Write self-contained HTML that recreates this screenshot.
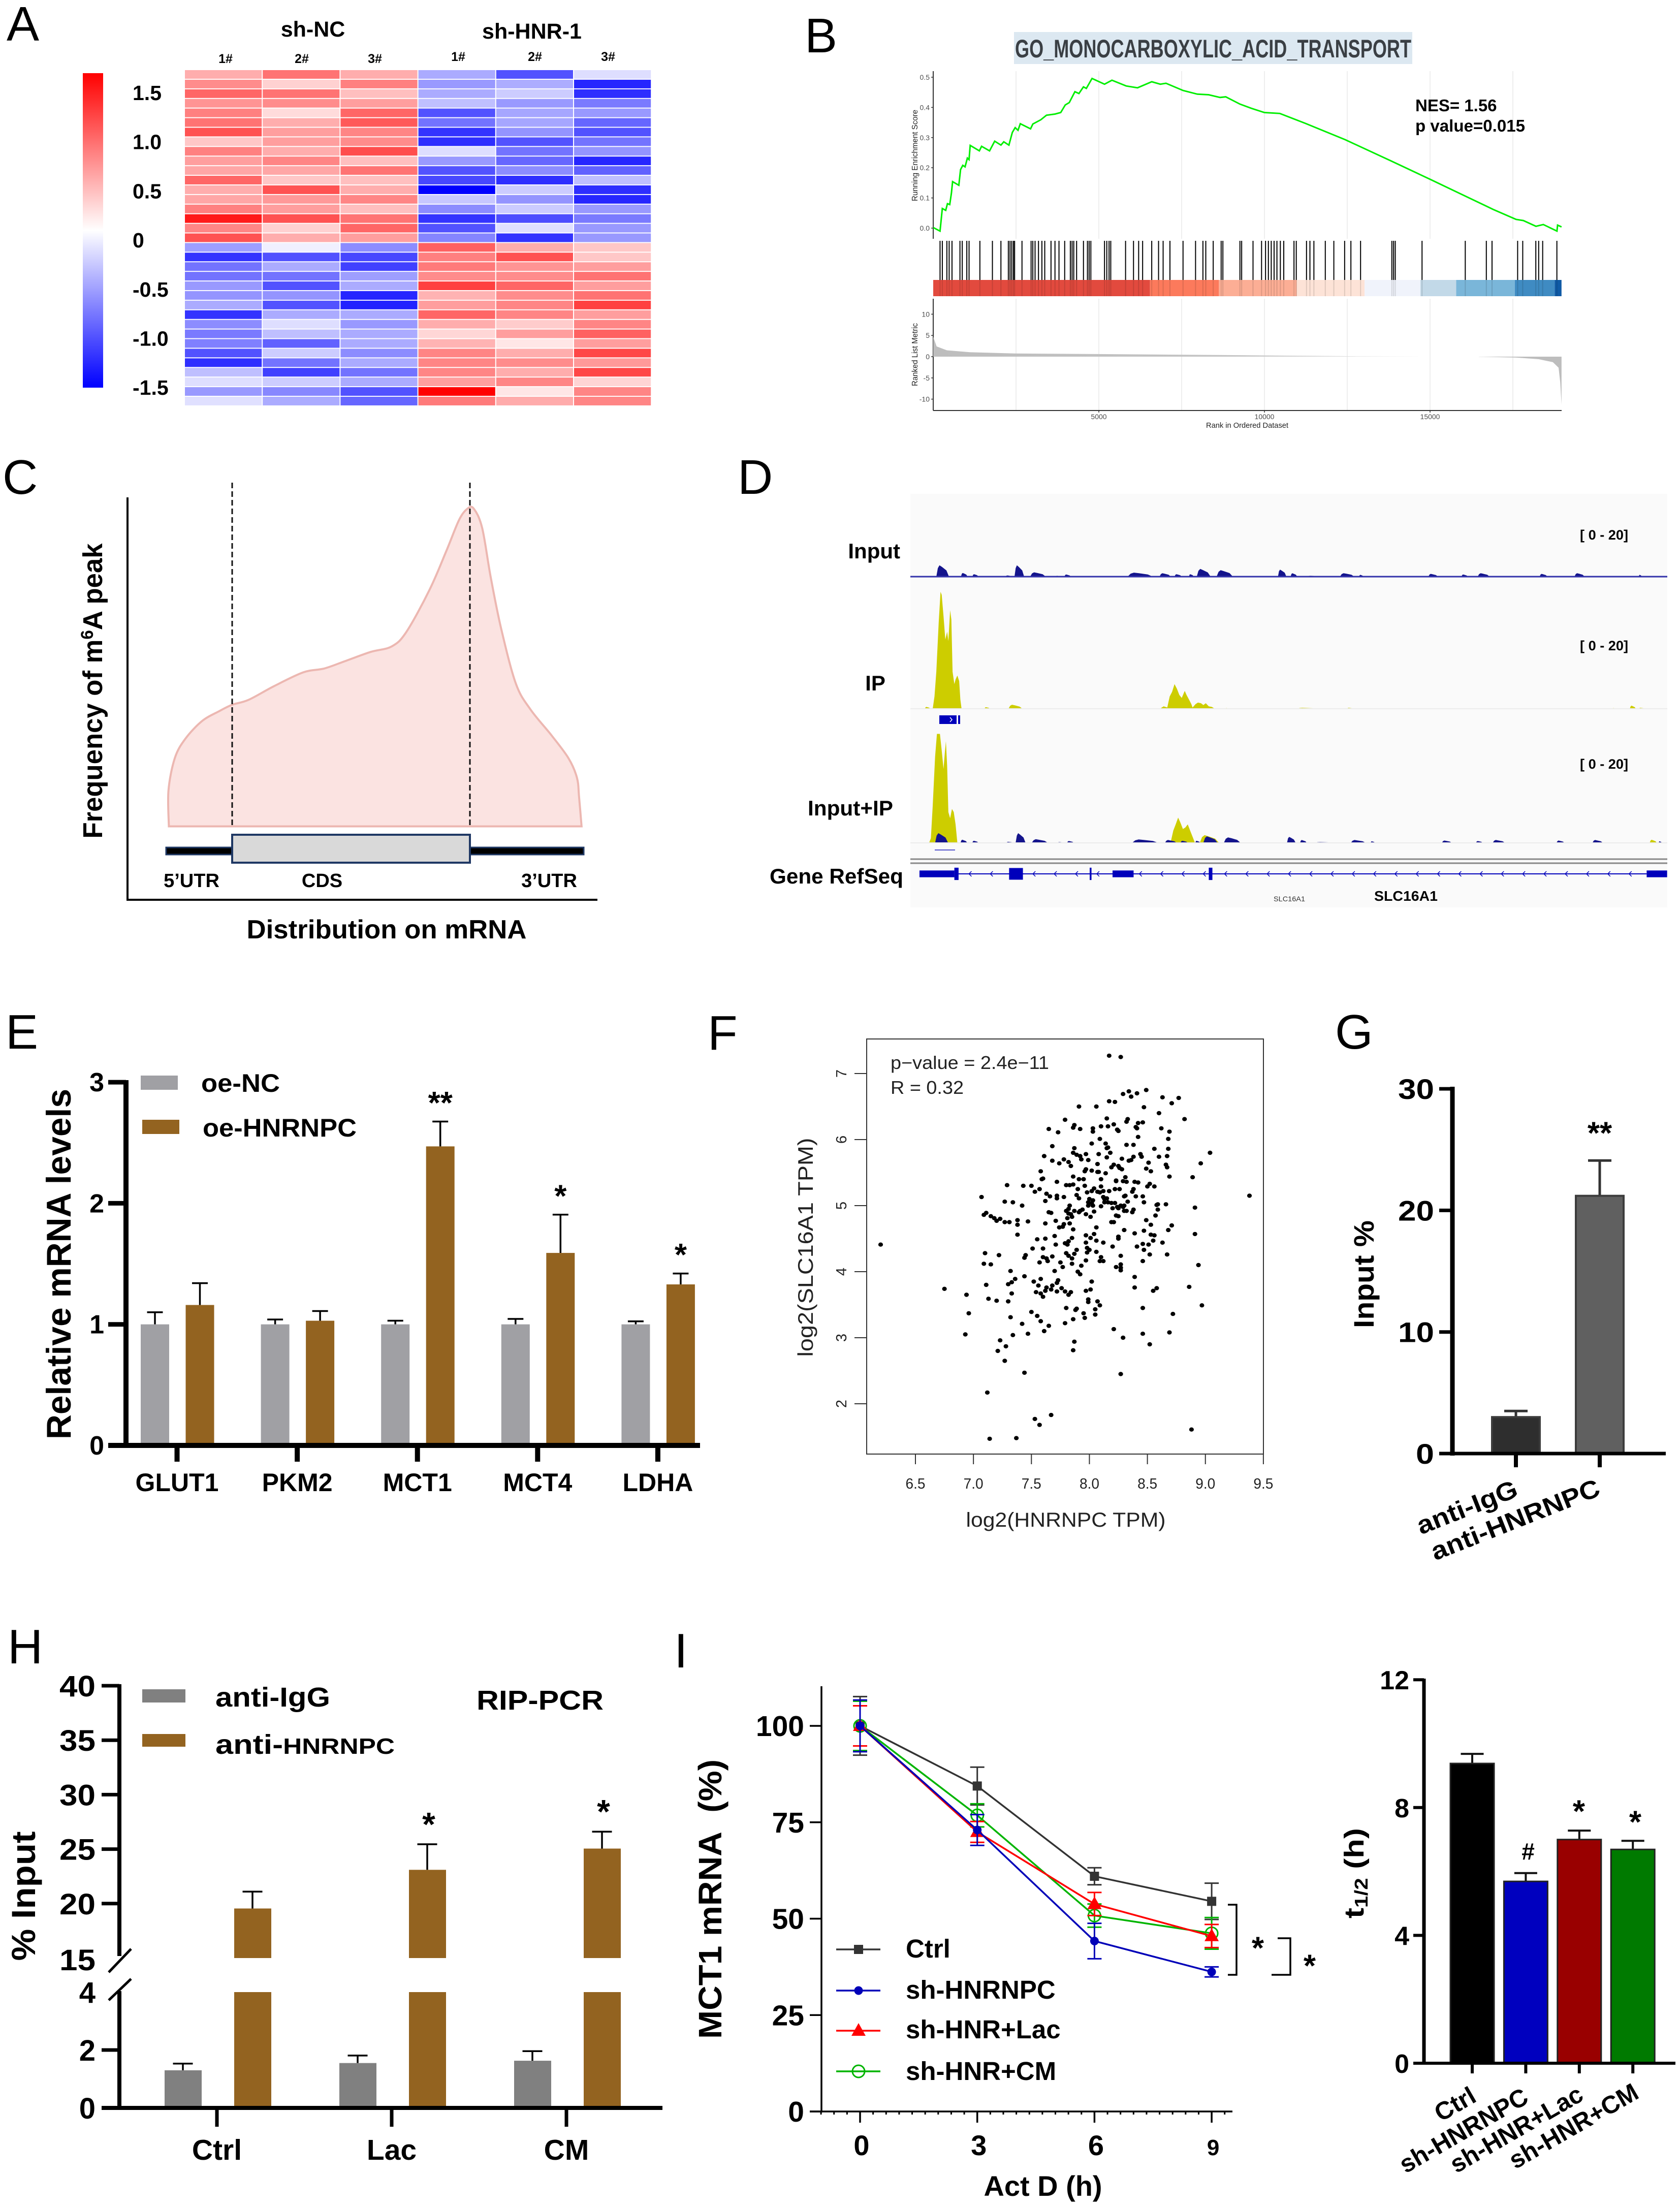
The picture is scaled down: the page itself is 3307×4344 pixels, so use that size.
<!DOCTYPE html>
<html lang="en">
<head>
<meta charset="utf-8">
<title>Multi-panel figure: HNRNPC, SLC16A1 and MCT1</title>
<style>
html,body{margin:0;padding:0;background:#fff;}
svg{display:block;font-family:"Liberation Sans",Arial,sans-serif;}
</style>
</head>
<body>
<svg id="figure" xmlns="http://www.w3.org/2000/svg" width="3307" height="4344" viewBox="0 0 3307 4344">
<defs>
<linearGradient id="cbar" x1="0" y1="0" x2="0" y2="1"><stop offset="0" stop-color="#ff0000"/><stop offset="0.5" stop-color="#ffffff"/><stop offset="1" stop-color="#0000ff"/></linearGradient>
<linearGradient id="metricFade" x1="0" y1="0" x2="1" y2="0"><stop offset="0" stop-color="#bdbdbd"/><stop offset="0.6" stop-color="#c4c4c4"/><stop offset="1" stop-color="#ededed"/></linearGradient>
</defs>
<rect x="0" y="0" width="3307" height="4344" fill="#ffffff"/>
<g id="pA"></g>
<g id="pB"></g>
<g id="pC"></g>
<g id="pD"></g>
<g id="pE"></g>
<g id="pF"></g>
<g id="pG"></g>
<g id="pH"></g>
<g id="pI"></g>
<g id="pJ"></g>
</svg>
<script>
/* ---------- Panel A data ---------- */
const heatColumns = ["1#","2#","3#","1#","2#","3#"];
const heatValues = [
[.32,.55,.32,-.33,-.68,-.13],[.45,.18,.5,-.4,-.32,-.85],[.6,.55,.25,-.33,-.2,-.82],[.42,.45,.38,-.25,-.4,-.52],
[.5,.14,.6,-.68,-.35,-.4],[.55,.32,.65,-.55,-.35,-.6],[.68,.38,.48,-.8,-.42,-.68],[.22,.38,.45,-.82,-.68,-.55],
[.5,.32,.7,-.13,-.55,-.42],[.38,.48,.25,-.4,-.6,-.85],[.35,.35,.55,-.68,-.45,-.62],[.6,.22,.25,-.72,-.82,-.25],
[.32,.68,.32,-1,-.2,-.82],[.35,.4,.48,-.22,-.42,-.85],[.5,.38,.25,-.45,-.2,-.4],[.9,.68,.55,-.8,-.7,-.52],
[.48,.18,.6,-.68,-.12,-.4],[.68,.32,.38,-.48,-.8,-.4],[-.38,-.06,-.45,.62,.32,.22],[-.8,-.68,-.72,.5,.68,.22],
[-.55,-.33,-.75,.52,.42,.38],[-.55,-.55,-.38,.45,.45,.55],[-.4,-.68,-.33,.75,.6,.38],[-.42,-.42,-.85,.3,.45,.55],
[-.33,-.68,-.87,.38,.48,.75],[-.8,-.33,-.33,.6,.48,.38],[-.45,-.13,-.4,.32,.2,.48],[-.52,-.25,-.33,.16,.38,.62],
[-.5,-.62,-.33,.3,.1,.38],[-.68,-.2,-.45,.48,.32,.72],[-.82,-.55,-.33,.48,.45,.4],[-.25,-.75,-.55,.48,.32,.72],
[-.13,-.2,-.33,.38,.48,.17],[-.4,-.47,-.68,1,.1,.48],[-.12,-.33,-.6,.52,.33,.48]];
const heatScaleLabels = ["1.5","1.0","0.5","0","-0.5","-1.0","-1.5"];

/* ---------- Panel B data ---------- */
const esRank = [0,206,275,378,430,498,550,584,773,825,893,962,1031,1082,1117,1392,1460,1701,1856,2045,2131,2285,2388,2474,2560,2629,2938,3007,3247,3419,3677,3849,3986,4107,4278,4399,4536,4622,4794,5172,5395,5825,6168,6598,6856,7027,7543,7973,8316,8660,8832,9261,9605,10000,10464,11237,12440,13814,15017,16907,17595,17818,18196,18419,18832,18849,18969];
const esScore = [.002,-.010,.065,.059,.081,.078,.117,.154,.142,.194,.208,.203,.232,.227,.274,.256,.271,.256,.288,.275,.286,.275,.317,.333,.324,.346,.329,.345,.359,.374,.378,.383,.408,.416,.452,.446,.468,.463,.496,.477,.490,.471,.465,.485,.477,.480,.456,.444,.442,.433,.435,.411,.397,.383,.380,.347,.293,.223,.161,.062,.029,.025,.006,.012,-.010,.010,.004];
const hitRanks = [206,275,412,481,567,807,876,1014,1082,1409,1787,2044,2268,2319,2371,2422,2457,2680,2955,3007,3075,3178,3281,3367,3556,3676,3797,3969,4140,4192,4243,4329,4536,4656,4707,4759,5171,5240,5309,5360,5807,6047,6202,6322,6597,6803,6941,7147,7542,7920,8143,8229,8453,8693,8745,9260,9312,9655,9913,10033,10119,10205,10291,10377,10480,10583,10892,10961,11270,11373,11493,11837,12095,12421,12610,12902,13847,13899,13950,14758,16063,16699,16871,17644,17798,18193,18279,18400,18829];
const stripEdges = [0,6545,8625,10978,13024,14707,15790,17560,18763,18969];
const stripColors = ["#e24a3e","#fc7a5c","#fcae95","#fde3d7","#f0f3fb","#c2d9e8","#7ab6d9","#3f8bc2","#0f5aa5"];
const metricPosRank = [0,103,412,1100,2474,5910,9346,11373,12781,14637];
const metricPosValue = [4.7,2.4,1.5,1.05,.75,.55,.35,.2,.1,.03];
const metricNegRank = [16475,17595,18280,18708,18880,18930,18969];
const metricNegValue = [-.02,-.2,-.6,-1.3,-2.6,-6,-11.3];
const esTicks = ["0.0","0.1","0.2","0.3","0.4","0.5"];
const metricTicks = [-10,-5,0,5,10];
const rankTicks = [5000,10000,15000];

/* ---------- Panel C data ---------- */
const mrnaPos = [401,400,415,440,480,520,551,590,650,720,770,820,880,930,965,1020,1060,1090,1110,1125,1145,1165,1190,1225,1260,1310,1350,1370,1375,1381];
const mrnaFreq = [0,110,210,270,325,355,375,390,432,475,487,510,538,555,600,730,850,945,980,980,920,770,610,440,360,280,210,150,90,0];

/* ---------- Panel D data ---------- */
const inputPeakStart = [332,373,392,447,462,488,530,545,580,650,703,728,752,765,798,860,900,921,945,1003,1035,1072,1098,1150,1205,1232,1335,1362,1393,1425,1458,1500];
const inputPeakEnd = [353,384,402,458,478,514,540,556,620,692,722,740,760,788,825,885,914,932,980,1027,1042,1082,1110,1166,1216,1252,1348,1370,1410,1432,1468,1505];
const inputPeakHeight = [37,12,8,4,37,14,3,7,2,13,11,8,8,25,21,2,23,11,3,11,6,2,2,9,7,11,9,2,11,2,2,6];
const ipMainX = [326,329,332,336,339,341,344,347,350,352,355,357,359,362,364,367,370,372,374];
const ipMainY = [0,40,120,280,380,370,300,225,250,220,320,290,120,80,95,108,90,30,0];
const ipSecondX = [704,710,716,720,724,728,732,736,740,745,748,752,756,758,763,767,772,776,780,785,790,795];
const ipSecondY = [0,8,4,40,55,80,65,45,35,58,45,30,15,4,15,20,18,12,18,8,6,0];
const ipSmallStart = [313,412,452,812,932,1015,1455,1485,1500];
const ipSmallEnd = [322,421,475,820,965,1025,1465,1495,1510];
const ipSmallHeight = [6,5,13,2,3,3,2,10,3];
const mergedMainX = [320,323,326,330,333,338,341,344,346,348,350,352,355,358,361,364,367];
const mergedMainY = [0,15,120,280,354,354,300,240,290,330,250,100,80,110,100,60,0];
const mergedSecondX = [715,722,726,730,734,738,742,746,750,754,758,762];
const mergedSecondY = [0,5,40,60,82,65,45,50,60,40,20,0];
const mergedSmallStart = [770,1518];
const mergedSmallEnd = [802,1530];
const mergedSmallHeight = [25,10];
const exonStart = [304,362,453,587,625,785,1513];
const exonEnd = [362,369,476,590,660,791,1547];
const exonHalfHeight = [11,20,19,20,11,20,11];

/* ---------- Panel E data ---------- */
const eCategories = ["GLUT1","PKM2","MCT1","MCT4","LDHA"];
const eNC = [1,1,1,1,1];
const eNCTop = [1.10,1.04,1.03,1.045,1.025];
const eHN = [1.16,1.03,2.47,1.59,1.33];
const eHNTop = [1.34,1.11,2.675,1.906,1.42];
const eStars = ["","","**","*","*"];
const eTicks = [0,1,2,3];

/* ---------- Panel F data ---------- */
const fXTicks = ["6.5","7.0","7.5","8.0","8.5","9.0","9.5"];
const fYTicks = [2,3,4,5,6,7];
const scatterPairs = [[6.20,4.41],[6.75,3.74],[6.94,3.65],[6.96,3.37],[6.93,3.05],
[7.07,5.13],[7.09,4.86],[7.11,4.89],[7.15,4.84],[7.18,4.81],[7.20,4.77],[7.23,4.80],[7.27,4.75],[7.31,4.75],[7.27,5.06],[7.29,5.31],[7.34,5.05],[7.42,5.00],[7.43,5.30],[7.50,5.30],[7.53,5.21],[7.57,5.25],[7.38,4.78],[7.38,4.71],[7.38,4.56],[7.47,4.76],
[7.10,4.28],[7.09,4.12],[7.15,4.11],[7.22,4.25],[7.32,4.01],[7.11,3.80],[7.13,3.59],[7.20,3.56],[7.30,3.55],[7.30,3.81],[7.33,3.84],[7.36,3.89],[7.33,3.67],[7.44,3.93],[7.32,3.31],[7.42,3.21],[7.47,3.06],[7.34,3.04],[7.23,2.96],[7.28,2.87],[7.21,2.80],[7.27,2.65],[7.44,2.47],[7.12,2.17],[7.14,1.47],[7.37,1.48],[7.53,1.77],[7.57,1.68],[7.67,1.83],[8.88,1.61],[8.27,2.45],
[7.44,4.21],[7.45,4.25],[7.51,4.35],[7.55,4.49],[7.62,4.50],[7.60,4.35],[7.57,4.14],[7.60,4.22],[7.63,4.20],[7.64,4.16],[7.68,4.23],[7.71,4.41],[7.70,4.54],[7.70,4.01],[7.75,4.14],[7.77,4.07],
[7.52,3.85],[7.56,3.79],[7.58,3.89],[7.54,3.69],[7.58,3.67],[7.60,3.62],[7.62,3.71],[7.63,3.76],[7.67,3.73],[7.68,3.79],[7.72,3.70],[7.73,3.87],[7.72,3.83],[7.76,3.75],[7.79,3.70],[7.82,3.65],[7.84,3.69],[7.80,3.45],[7.50,3.39],[7.55,3.33],[7.58,3.25],[7.61,3.10],[7.65,3.18],[7.79,3.22],[7.86,3.28],[7.88,3.42],[7.89,3.44],[7.95,3.37],[7.96,3.30],[8.05,3.35],[8.05,3.43],[8.09,3.49],[8.07,3.55],[7.99,3.54],[7.99,3.58],[7.97,3.71],[8.01,3.73],[8.02,3.85],[7.87,2.94],[7.86,2.81],[8.21,3.13],[8.29,3.00],[8.46,3.06],[8.52,2.90],[8.69,3.08],[8.72,3.36],[8.46,3.45],
[7.62,5.07],[7.63,5.18],[7.66,5.14],[7.72,5.15],[7.72,5.11],[7.78,5.13],[7.65,4.90],[7.67,4.89],[7.62,4.73],[7.71,4.77],[7.74,4.67],[7.77,4.68],[7.78,4.72],[7.81,4.81],[7.85,4.83],[7.83,4.73],[7.79,4.43],[7.82,4.46],[7.81,4.41],[7.85,4.51],[7.80,4.28],[7.82,4.24],[7.85,4.20],[7.85,4.12],[7.87,4.27],[7.89,4.33],[7.93,4.09],[7.90,4.00],[7.92,3.96],[7.86,4.64],
[7.80,4.92],[7.82,4.95],[7.83,5.00],[7.84,4.87],[7.82,4.88],[7.87,4.92],[7.91,4.90],[7.92,4.92],[7.94,4.94],[7.97,4.87],[8.01,4.83],[8.04,4.91],[8.06,4.67],[8.04,4.57],[7.97,4.55],[8.01,4.51],[7.97,4.44],[8.06,4.47],[8.12,4.44],[7.98,4.36],[8.00,4.33],[7.98,4.29],[8.06,4.30],[7.97,4.17],[8.10,4.22],[8.09,4.16],[8.12,4.16],
[7.59,5.40],[7.60,5.41],[7.58,5.52],[7.61,5.75],[7.68,5.68],[7.68,5.90],[7.65,6.16],[7.73,6.11],[7.78,5.70],[7.74,5.64],[7.82,5.66],[7.84,5.60],[7.72,5.36],[7.80,5.31],[7.83,5.31],[7.86,5.32],[7.86,5.44],[7.89,5.16],[7.91,5.11],[7.90,5.25],[7.91,5.40],[7.95,5.40],[7.96,5.52],[7.97,5.55],[7.96,5.30],[7.98,5.20],[7.99,5.05],[8.00,5.10],[8.02,5.04],[8.03,5.00],[8.03,5.08],[7.99,5.00],
[7.89,5.77],[7.92,5.75],[7.93,5.70],[7.97,5.78],[7.99,5.69],[8.02,5.53],[8.07,5.51],[8.07,5.63],[8.08,5.78],[8.02,5.94],[8.09,6.01],[8.03,6.12],[8.03,6.17],[7.86,5.80],[7.87,5.87],[7.79,6.30],[7.86,6.18],[7.87,6.22],[7.92,6.16],[7.91,6.50],[8.06,6.50],[8.10,6.20],[8.15,6.32],[8.16,6.20],[8.21,6.23],[8.24,6.15],[8.25,6.13],
[8.17,6.58],[8.22,6.57],[8.29,6.69],[8.34,6.73],[8.36,6.65],[8.41,6.70],[8.49,6.75],[8.47,6.49],[8.63,6.64],[8.71,6.55],[8.77,6.63],[8.60,6.40],[8.82,6.31],[8.17,7.27],[8.27,7.25],
[8.32,6.27],[8.33,6.31],[8.40,6.19],[8.41,6.17],[8.42,6.25],[8.46,6.26],[8.42,6.04],[8.62,6.17],[8.69,6.12],[8.68,6.01],[8.68,5.86],[8.67,5.75],[8.56,5.86],[8.60,5.74],[8.44,5.78],[8.45,5.74],[8.38,5.92],[8.32,5.92],[8.28,5.71],[8.34,5.68],[8.36,5.69],[8.38,5.74],
[8.14,5.94],[8.15,5.87],[8.16,5.88],[8.18,5.80],[8.15,5.73],[8.08,5.51],[8.14,5.49],[8.19,5.58],[8.21,5.62],[8.25,5.60],[8.26,5.57],[8.28,5.55],[8.10,5.40],[8.10,5.29],[8.09,5.20],[8.12,5.22],[8.17,5.22],[8.12,5.13],[8.13,5.10],[8.15,5.11],[8.13,5.05],[8.16,5.05],[8.07,5.21],[8.02,5.22],[8.04,5.26],[8.10,4.99],[8.19,5.04],
[8.22,5.25],[8.23,5.37],[8.23,5.38],[8.26,5.25],[8.30,5.14],[8.31,5.15],[8.29,5.37],[8.31,5.43],[8.32,5.36],[8.39,5.36],[8.42,5.35],[8.38,5.25],[8.37,5.21],[8.40,5.14],[8.46,5.14],[8.50,5.29],[8.52,5.33],[8.56,5.29],[8.49,5.56],[8.51,5.65],[8.53,5.52],[8.66,5.62],[8.67,5.58],[8.69,5.44],
[8.20,4.96],[8.22,5.04],[8.24,4.98],[8.25,4.96],[8.29,4.98],[8.30,4.92],[8.30,5.00],[8.32,4.92],[8.33,5.06],[8.27,5.00],[8.23,4.85],[8.25,4.84],[8.19,4.75],[8.21,4.75],[8.37,4.90],[8.38,4.94],[8.47,5.05],[8.58,5.01],[8.59,5.02],[8.66,5.02],[8.59,4.94],[8.57,4.85],[8.49,4.78],[8.53,4.71],[8.47,4.62],[8.30,4.63],[8.25,4.53],[8.25,4.50],[8.39,4.58],[8.53,4.56],[8.56,4.55],[8.68,4.63],[8.71,4.70],[8.63,4.44],[8.55,4.47],[8.46,4.42],[8.51,4.41],[8.47,4.33],[8.41,4.38],[8.52,4.26],[8.46,4.16],[8.67,4.26],[8.20,4.38],[8.27,4.24],[8.27,4.11],[8.27,4.06],[8.27,4.02],[8.23,4.07],[8.39,3.92],[8.39,3.76],[8.55,3.71],[8.58,3.75],
[8.86,3.77],[8.97,3.49],[8.94,4.10],[8.91,4.57],[8.91,4.97],[8.89,5.43],[8.96,5.64],[9.04,5.80],[9.38,5.15]];

/* ---------- Panel G data ---------- */
const gValues = [3.0,21.2];
const gTops = [3.5,24.1];
const gTicks = [0,10,20,30];

/* ---------- Panel H data ---------- */
const hCategories = ["Ctrl","Lac","CM"];
const hIgG = [1.3,1.55,1.63];
const hIgGTop = [1.53,1.81,1.96];
const hAnti = [19.55,23.1,25.05];
const hAntiTop = [21.1,25.45,26.6];
const hStars = ["","*","*"];
const hUpperTicks = [20,25,30,35,40];
const hLowerTicks = [0,2];

/* ---------- Panel I data ---------- */
const iHours = [0,3,6,9];
const iCtrl = [100,84.4,61,54.5];
const iCtrlErr = [7.6,4.9,2.2,4.7];
const iHNRNPC = [100,73,44.2,36.2];
const iHNRNPCErr = [6.7,4,4.6,1.3];
const iLac = [100,72.5,53.8,45.5];
const iLacErr = [5.2,2.7,3,3];
const iCM = [100,76.8,50.8,46.2];
const iCMErr = [6.4,3,3,4.1];
const iYTicks = [0,25,50,75,100];
const jCategories = ["Ctrl","sh-HNRNPC","sh-HNR+Lac","sh-HNR+CM"];
const jValues = [9.38,5.69,7.0,6.69];
const jTops = [9.68,5.95,7.28,6.96];
const jTicks = [0,4,8,12];

/* ---------- helpers ---------- */
const NS = 'http://www.w3.org/2000/svg';
function mk(tag, attrs, parent, name, inter) {
  const el = document.createElementNS(NS, tag);
  for (const k in attrs) el.setAttribute(k, attrs[k]);
  
  
  parent.appendChild(el);
  return el;
}
function L(p, name, x1, y1, x2, y2, c, w, extra) {
  return mk('line', Object.assign({x1:x1, y1:y1, x2:x2, y2:y2, stroke:c, 'stroke-width':w}, extra || {}), p, name);
}
function R(p, name, x, y, w, h, fill, stroke, sw) {
  const a = {x:x, y:y, width:w, height:h, fill:fill};
  if (stroke) { a.stroke = stroke; a['stroke-width'] = sw; }
  return mk('rect', a, p, name);
}
function T(p, name, str, x, y, o) {
  o = o || {};
  const a = {x:x, y:y, 'font-size':o.fs || 40, 'font-weight':o.reg ? 'normal' : 'bold', fill:o.fill || '#000'};
  if (o.anchor) a['text-anchor'] = o.anchor;
  if (o.rot) a.transform = 'rotate(' + o.rot + ' ' + x + ' ' + y + ')';
  if (o.len) { a.textLength = o.len; a.lengthAdjust = 'spacingAndGlyphs'; }
  const el = mk('text', a, p, name);
  if (str !== null) el.textContent = str;
  return el;
}
function Span(parent, name, str, attrs) {
  const el = mk('tspan', attrs || {}, parent, name);
  el.textContent = str;
  return el;
}
function Poly(p, name, pts, fill, stroke, sw) {
  const a = {points:pts.map(q => q[0].toFixed(1) + ',' + q[1].toFixed(1)).join(' '), fill:fill};
  if (stroke) { a.stroke = stroke; a['stroke-width'] = sw; }
  return mk('polygon', a, p, name);
}
function Star(p, name, str, cx, cy, fs) {
  return T(p, name, str, cx, cy + fs * 0.46, {fs:fs, anchor:'middle'});
}
function ErrUp(p, name, x, y1, y2, capw, c, w) {
  L(p, name + '-stem', x, y1, x, y2, c, w);
  L(p, name + '-cap', x - capw / 2, y2, x + capw / 2, y2, c, w);
}
const $ = id => document.getElementById(id);

/* ---------- panel letters ---------- */
T($('pA'), 'panel-letter-a', 'A', 13, 80, {fs:96, reg:true});
T($('pB'), 'panel-letter-b', 'B', 1584, 103, {fs:96, reg:true});
T($('pC'), 'panel-letter-c', 'C', 5, 972, {fs:96, reg:true});
T($('pD'), 'panel-letter-d', 'D', 1452, 972, {fs:96, reg:true});
T($('pE'), 'panel-letter-e', 'E', 11, 2064, {fs:96, reg:true});
T($('pF'), 'panel-letter-f', 'F', 1393, 2066, {fs:96, reg:true});
T($('pG'), 'panel-letter-g', 'G', 2628, 2064, {fs:96, reg:true});
T($('pH'), 'panel-letter-h', 'H', 15, 3274, {fs:96, reg:true});
T($('pI'), 'panel-letter-i', 'I', 1327, 3282, {fs:96, reg:true});

/* ---------- Panel A ---------- */
(function () {
  const p = $('pA');
  const colX = i => 364 + i * 153.2;
  const rowY = r => 138 + r * 18.91;
  const heat = v => {
    const k = Math.round(255 * (1 - Math.abs(v)));
    return v >= 0 ? 'rgb(255,' + k + ',' + k + ')' : 'rgb(' + k + ',' + k + ',255)';
  };
  heatValues.forEach((row, r) => row.forEach((v, c) => {
    R(p, 'heatmap-cell', colX(c), rowY(r), 151.2, 17, heat(v));
  }));
  const labelX = [444, 594, 738, 902, 1053, 1197];
  const labelY = [124, 124, 124, 120, 120, 120];
  heatColumns.forEach((s, i) => T(p, 'heatmap-column-label', s, labelX[i], labelY[i], {fs:25, anchor:'middle'}));
  T(p, 'group-label-sh-nc', 'sh-NC', 616, 72, {fs:43, anchor:'middle'});
  T(p, 'group-label-sh-hnr-1', 'sh-HNR-1', 1047, 76, {fs:43, anchor:'middle'});
  R(p, 'color-scale-bar', 163, 144, 40, 619, 'url(#cbar)');
  heatScaleLabels.forEach((s, i) => T(p, 'color-scale-label', s, 261, 184 + i * 96.7 + 13, {fs:41}));
})();

/* ---------- Panel B ---------- */
(function () {
  const p = $('pB');
  const xB = r => 1837 + r * 0.0652;
  const yES = v => 449 - v * 594;
  const yM = v => 702 - v * 8.36;
  R(p, 'gsea-title-background', 1996, 63, 784, 63, '#dce8f1');
  T(p, 'gsea-title', 'GO_MONOCARBOXYLIC_ACID_TRANSPORT', 1998, 113, {fs:50, fill:'#3a3f44', len:780});
  for (let r = 2500; r < 18969; r += 2500) {
    L(p, 'gsea-gridline-top', xB(r), 140, xB(r), 470, '#eeeeee', 2);
    L(p, 'gsea-gridline-bottom', xB(r), 588, xB(r), 808, '#eeeeee', 2);
  }
  L(p, 'es-y-axis', 1837, 140, 1837, 470, '#333', 2);
  esTicks.forEach(t => {
    const y = yES(parseFloat(t));
    L(p, 'es-tick', 1833, y, 1837, y, '#333', 1.5);
    T(p, 'es-tick-label', t, 1830, y + 5, {fs:14, reg:true, anchor:'end', fill:'#4d4d4d'});
  });
  const pts = esRank.map((r, i) => xB(r).toFixed(1) + ',' + yES(esScore[i]).toFixed(1)).join(' ');
  mk('polyline', {points:pts, fill:'none', stroke:'#00ee00', 'stroke-width':3}, p, 'enrichment-score-line');
  T(p, 'es-y-title', 'Running Enrichment Score', 1806, 306, {fs:16, reg:true, anchor:'middle', rot:-90, len:180, fill:'#222'});
  T(p, 'nes-label', 'NES= 1.56', 2786, 219, {fs:33});
  T(p, 'p-value-label', 'p value=0.015', 2786, 259, {fs:33, len:216});
  hitRanks.forEach(r => L(p, 'gene-hit-tick', xB(r), 474, xB(r), 551, '#000', 2));
  stripColors.forEach((c, i) => R(p, 'rank-color-strip', xB(stripEdges[i]), 551, xB(stripEdges[i + 1]) - xB(stripEdges[i]), 32, c));
  hitRanks.forEach(r => L(p, 'strip-hit-tick', xB(r), 551, xB(r), 583, 'rgba(0,0,0,0.12)', 2));
  L(p, 'metric-y-axis', 1837, 588, 1837, 808, '#333', 2);
  L(p, 'metric-x-axis', 1837, 808, 3074, 808, '#333', 2);
  metricTicks.forEach(t => {
    L(p, 'metric-tick', 1833, yM(t), 1837, yM(t), '#333', 1.5);
    T(p, 'metric-tick-label', String(t), 1830, yM(t) + 5, {fs:14, reg:true, anchor:'end', fill:'#4d4d4d'});
  });
  const posPts = metricPosRank.map((r, i) => [xB(r), yM(metricPosValue[i])]);
  posPts.push([xB(metricPosRank[metricPosRank.length - 1]), yM(0)], [xB(0), yM(0)]);
  Poly(p, 'ranked-metric-positive-area', posPts, 'url(#metricFade)');
  const negPts = metricNegRank.map((r, i) => [xB(r), yM(metricNegValue[i])]);
  negPts.push([xB(metricNegRank[metricNegRank.length - 1]), yM(0)], [xB(metricNegRank[0]), yM(0)]);
  Poly(p, 'ranked-metric-negative-area', negPts, '#bdbdbd');
  rankTicks.forEach(t => {
    L(p, 'rank-tick', xB(t), 808, xB(t), 812, '#333', 1.5);
    T(p, 'rank-tick-label', String(t), xB(t), 825, {fs:14, reg:true, anchor:'middle', fill:'#4d4d4d'});
  });
  T(p, 'metric-y-title', 'Ranked List Metric', 1806, 698, {fs:16, reg:true, anchor:'middle', rot:-90, len:124, fill:'#222'});
  T(p, 'rank-x-title', 'Rank in Ordered Dataset', 2455, 842, {fs:15, reg:true, anchor:'middle', len:162, fill:'#222'});
})();

/* ---------- Panel C ---------- */
(function () {
  const p = $('pC');
  const xC = z => z * 0.829;
  const yC = f => 880 + (1170 - f) * 0.638;
  const q = mrnaPos.map((z, i) => [xC(z), yC(mrnaFreq[i])]);
  let d = 'M' + q[0][0].toFixed(1) + ' ' + q[0][1].toFixed(1);
  for (let i = 0; i < q.length - 1; i++) {
    const a = q[Math.max(i - 1, 0)], b = q[i], c = q[i + 1], e = q[Math.min(i + 2, q.length - 1)];
    d += 'C' + (b[0] + (c[0] - a[0]) / 6).toFixed(1) + ' ' + (b[1] + (c[1] - a[1]) / 6).toFixed(1) + ' ' +
      (c[0] - (e[0] - b[0]) / 6).toFixed(1) + ' ' + (c[1] - (e[1] - b[1]) / 6).toFixed(1) + ' ' +
      c[0].toFixed(1) + ' ' + c[1].toFixed(1);
  }
  d += 'Z';
  mk('path', {d:d, fill:'#fbe3e1', stroke:'#ecb7b1', 'stroke-width':4}, p, 'm6a-density-area');
  L(p, 'cds-start-dashed-line', 457, 950, 457, 1626, '#111', 3, {'stroke-dasharray':'11 6'});
  L(p, 'cds-end-dashed-line', 925, 950, 925, 1626, '#111', 3, {'stroke-dasharray':'11 6'});
  L(p, 'c-y-axis', 251, 979, 251, 1773, '#000', 4);
  L(p, 'c-x-axis', 249, 1771, 1176, 1771, '#000', 4);
  R(p, 'utr-5-bar', 327, 1668, 130, 14, '#000', '#1f3864', 3);
  R(p, 'utr-3-bar', 925, 1668, 224, 14, '#000', '#1f3864', 3);
  R(p, 'cds-box', 457, 1643, 468, 55, '#d9d9d9', '#1f3864', 4);
  T(p, 'utr-5-label', '5\u2019UTR', 377, 1746, {fs:38, anchor:'middle'});
  T(p, 'cds-label', 'CDS', 634, 1746, {fs:38, anchor:'middle'});
  T(p, 'utr-3-label', '3\u2019UTR', 1081, 1746, {fs:38, anchor:'middle'});
  T(p, 'c-x-title', 'Distribution on mRNA', 761, 1847, {fs:52, anchor:'middle', len:551});
  const yt = T(p, 'c-y-title', null, 201, 1360, {fs:54, anchor:'middle', rot:-90, len:581});
  Span(yt, 'c-y-title-start', 'Frequency of m');
  Span(yt, 'c-y-title-superscript', '6', {'font-size':34, dy:-18});
  Span(yt, 'c-y-title-end', 'A peak', {dy:18});
})();

/* ---------- Panel D ---------- */
(function () {
  const p = $('pD');
  const xD = z => 1450 + z * 1.184;
  const xM = z => xD(z + (z - 400) * 0.03);
  const hD = h => h * 0.606;
  const profile = (name, xs, hs, base, fill, ax) => {
    const pts = xs.map((x, i) => [ax(x), base - hD(hs[i])]);
    Poly(p, name, pts, fill);
  };
  const bumps = (name, s, e, h, base, fill, ax, k) => {
    s.forEach((st, i) => {
      const en = e[i], w = en - st, v = h[i] * k;
      const pts = [[st, 0], [st + w * 0.12, v * 0.75], [st + w * 0.25, v], [st + w * 0.45, v * 0.85], [st + w * 0.8, v * 0.55], [en, 0]];
      Poly(p, name, pts.map(q => [ax(q[0]), base - hD(q[1])]), fill);
    });
  };
  R(p, 'igv-track-background', 1792, 972, 1490, 814, '#fafafa');
  bumps('input-peak', inputPeakStart, inputPeakEnd, inputPeakHeight, 1135, '#14148c', xD, 1);
  L(p, 'input-baseline', 1792, 1135, 3282, 1135, '#3333aa', 3);
  profile('ip-main-peak', ipMainX, ipMainY, 1395, '#cdcd00', xD);
  profile('ip-second-peak', ipSecondX, ipSecondY, 1395, '#cdcd00', xD);
  bumps('ip-small-peak', ipSmallStart, ipSmallEnd, ipSmallHeight, 1395, '#cdcd00', xD, 1);
  L(p, 'ip-baseline', 1792, 1395, 3282, 1395, '#ececec', 2);
  R(p, 'peak-annotation-block', 1849, 1408, 34, 17, '#0000bb');
  R(p, 'peak-annotation-tail', 1886, 1408, 4, 17, '#0000bb');
  mk('polyline', {points:'1870,1412 1874,1416.5 1870,1421', fill:'none', stroke:'#fff', 'stroke-width':1.5}, p, 'peak-annotation-chevron');
  profile('merged-main-peak', mergedMainX, mergedMainY, 1659, '#cdcd00', xD);
  profile('merged-second-peak', mergedSecondX, mergedSecondY, 1659, '#cdcd00', xD);
  bumps('merged-small-peak', mergedSmallStart, mergedSmallEnd, mergedSmallHeight, 1659, '#cdcd00', xD, 1);
  bumps('merged-input-peak', inputPeakStart, inputPeakEnd, inputPeakHeight, 1659, '#14148c', xM, 0.85);
  L(p, 'merged-baseline', 1792, 1659, 3282, 1659, '#ececec', 2);
  L(p, 'merged-annotation-line', 1840, 1673, 1880, 1673, '#5555cc', 2);
  L(p, 'track-divider-top', 1792, 1691, 3282, 1691, '#888', 3);
  L(p, 'track-divider-bottom', 1792, 1699, 3282, 1699, '#888', 3);
  const gy = 1720;
  L(p, 'gene-intron-line', xD(369), gy, xD(1513), gy, '#0000bb', 2);
  for (let z = 388; z < 1500; z += 35.4) {
    mk('polyline', {points:(xD(z) + 3) + ',' + (gy - 5) + ' ' + (xD(z) - 2) + ',' + gy + ' ' + (xD(z) + 3) + ',' + (gy + 5), fill:'none', stroke:'#0000bb', 'stroke-width':1.5}, p, 'gene-strand-chevron');
  }
  exonStart.forEach((s, i) => {
    R(p, 'gene-exon', xD(s), gy - hD(exonHalfHeight[i]), Math.max(xD(exonEnd[i]) - xD(s), 3), hD(exonHalfHeight[i] * 2), '#0000bb');
  });
  T(p, 'track-label-input', 'Input', 1772, 1099, {fs:42, anchor:'end'});
  T(p, 'track-label-ip', 'IP', 1723, 1359, {fs:42, anchor:'middle'});
  T(p, 'track-label-input-ip', 'Input+IP', 1590, 1605, {fs:42, len:168});
  T(p, 'track-label-gene-refseq', 'Gene RefSeq', 1515, 1739, {fs:42, len:263});
  [1062, 1280, 1513].forEach(y => T(p, 'track-range-label', '[ 0 - 20]', 3110, y, {fs:27, len:95}));
  T(p, 'gene-name-small', 'SLC16A1', 2507, 1774, {fs:14, reg:true, len:62, fill:'#333'});
  T(p, 'gene-name-large', 'SLC16A1', 2705, 1773, {fs:28, len:125});
})();

/* ---------- Panel E ---------- */
(function () {
  const p = $('pE');
  const yE = v => 2845 - v * 238.3;
  const xE = i => 348.5 + i * 236.6;
  eCategories.forEach((c, i) => {
    const gx = xE(i) - 43.5, bx = xE(i) + 45;
    ErrUp(p, 'oe-nc-error', gx, yE(eNC[i]), yE(eNCTop[i]), 31, '#000', 3.5);
    ErrUp(p, 'oe-hnrnpc-error', bx, yE(eHN[i]), yE(eHNTop[i]), 31, '#000', 3.5);
    R(p, 'bar-oe-nc', gx - 28, yE(eNC[i]), 56, 2845 - yE(eNC[i]), '#a0a0a4');
    R(p, 'bar-oe-hnrnpc', bx - 28, yE(eHN[i]), 56, 2845 - yE(eHN[i]), '#936320');
    L(p, 'e-x-tick', xE(i), 2845, xE(i), 2877, '#000', 10);
    T(p, 'e-category-label', c, xE(i), 2935, {fs:50, anchor:'middle'});
    if (eStars[i]) Star(p, 'e-significance', eStars[i], bx, yE(eHNTop[i]) - 44, 62);
  });
  L(p, 'e-y-axis', 248, 2126, 248, 2850, '#000', 10);
  L(p, 'e-x-axis', 213, 2845, 1378, 2845, '#000', 10);
  eTicks.forEach(t => {
    L(p, 'e-y-tick', 213, yE(t), 248, yE(t), '#000', 9);
    T(p, 'e-y-tick-label', String(t), 205, yE(t) + 18, {fs:52, anchor:'end'});
  });
  T(p, 'e-y-title', 'Relative mRNA levels', 139, 2488, {fs:68, anchor:'middle', rot:-90, len:690});
  R(p, 'legend-swatch-oe-nc', 277, 2117, 73, 28, '#a0a0a4');
  R(p, 'legend-swatch-oe-hnrnpc', 280, 2204, 73, 28, '#936320');
  T(p, 'legend-label-oe-nc', 'oe-NC', 396, 2149, {fs:50, len:155});
  T(p, 'legend-label-oe-hnrnpc', 'oe-HNRNPC', 399, 2237, {fs:50, len:303});
})();

/* ---------- Panel F ---------- */
(function () {
  const p = $('pF');
  const xF = v => 1802 + (v - 6.5) * 228.3;
  const yF = v => 2113 + (7 - v) * 130;
  R(p, 'scatter-plot-frame', 1706, 2045, 781, 817, '#fff', '#333', 2);
  fXTicks.forEach(t => {
    const x = xF(parseFloat(t));
    L(p, 'scatter-x-tick', x, 2862, x, 2882, '#333', 2);
    T(p, 'scatter-x-tick-label', t, x, 2930, {fs:29, reg:true, anchor:'middle', fill:'#222', len:39});
  });
  fYTicks.forEach(t => {
    L(p, 'scatter-y-tick', 1682, yF(t), 1706, yF(t), '#333', 2);
    T(p, 'scatter-y-tick-label', String(t), 1666, yF(t), {fs:29, reg:true, anchor:'middle', rot:-90, fill:'#222'});
  });
  scatterPairs.forEach(d => {
    mk('ellipse', {cx:xF(d[0]).toFixed(1), cy:yF(d[1]).toFixed(1), rx:4.6, ry:4.2, fill:'#000'}, p, 'scatter-point');
  });
  T(p, 'scatter-stat-p-value', 'p\u2212value = 2.4e\u221211', 1753, 2104, {fs:36, reg:true, fill:'#222', len:312});
  T(p, 'scatter-stat-r', 'R = 0.32', 1753, 2153, {fs:36, reg:true, fill:'#222', len:144});
  T(p, 'scatter-y-title', 'log2(SLC16A1 TPM)', 1600, 2455, {fs:42, reg:true, anchor:'middle', rot:-90, fill:'#222', len:431});
  T(p, 'scatter-x-title', 'log2(HNRNPC TPM)', 2098, 3005, {fs:40, reg:true, anchor:'middle', fill:'#222', len:393});
})();

/* ---------- Panel G ---------- */
(function () {
  const p = $('pG');
  const yG = v => 2861 - v * 23.93;
  const centers = [2984, 3149];
  const fills = ['#2e2e2e', '#606060'];
  gValues.forEach((v, i) => {
    ErrUp(p, 'g-error', centers[i], yG(v), yG(gTops[i]), 46, '#333', 5);
    R(p, 'g-bar', centers[i] - 47, yG(v), 94, 2861 - yG(v), fills[i], '#3c3c3c', 4);
    L(p, 'g-x-tick', centers[i], 2861, centers[i], 2888, '#000', 8);
  });
  L(p, 'g-y-axis', 2859, 2139, 2859, 2865, '#000', 9);
  L(p, 'g-x-axis', 2833, 2861, 3279, 2861, '#000', 7);
  gTicks.forEach(t => {
    L(p, 'g-y-tick', 2833, yG(t), 2859, yG(t), '#000', 7);
    T(p, 'g-y-tick-label', String(t), 2823, yG(t) + 20, {fs:56, anchor:'end', len:t === 0 ? 36 : 71});
  });
  Star(p, 'g-significance', '**', 3149, 2223, 62);
  T(p, 'g-y-title', 'Input %', 2704, 2508, {fs:56, anchor:'middle', rot:-90, len:212});
  T(p, 'g-label-anti-igg', 'anti-IgG', 2797, 3021, {fs:50, rot:-21.6, len:209});
  T(p, 'g-label-anti-hnrnpc', 'anti-HNRNPC', 2825, 3072, {fs:50, rot:-21.6, len:353});
})();

/* ---------- Panel H ---------- */
(function () {
  const p = $('pH');
  const yLow = v => 4149 - v * 57;
  const yHigh = v => 3854 - (v - 15) * 21.44;
  const xH = i => 427 + i * 344;
  hCategories.forEach((c, i) => {
    const gx = xH(i) - 67, bx = xH(i) + 70;
    ErrUp(p, 'h-igg-error', gx, yLow(hIgG[i]), yLow(hIgGTop[i]), 39, '#000', 3.5);
    R(p, 'bar-anti-igg', gx - 36, yLow(hIgG[i]), 73, 4149 - yLow(hIgG[i]), '#808080');
    ErrUp(p, 'h-anti-error', bx, yHigh(hAnti[i]), yHigh(hAntiTop[i]), 39, '#000', 3.5);
    R(p, 'bar-anti-hnrnpc-upper', bx - 36, yHigh(hAnti[i]), 73, 3854 - yHigh(hAnti[i]), '#936320');
    R(p, 'bar-anti-hnrnpc-lower', bx - 36, yLow(4), 73, 4149 - yLow(4), '#936320');
    L(p, 'h-x-tick', xH(i), 4149, xH(i), 4186, '#000', 7);
    T(p, 'h-category-label', c, xH(i), 4251, {fs:57, anchor:'middle'});
    if (hStars[i]) Star(p, 'h-significance', hStars[i], bx + 3, yHigh(hAntiTop[i]) - 47, 66);
  });
  L(p, 'h-y-axis-upper', 235, 3315, 235, 3850, '#000', 8);
  L(p, 'h-y-axis-lower', 235, 3919, 235, 4153, '#000', 8);
  L(p, 'h-axis-break-upper', 214, 3882, 258, 3836, '#000', 5);
  L(p, 'h-axis-break-lower', 214, 3937, 258, 3895, '#000', 5);
  L(p, 'h-x-axis', 200, 4149, 1304, 4149, '#000', 8);
  hUpperTicks.forEach(t => {
    L(p, 'h-y-tick', 200, yHigh(t), 235, yHigh(t), '#000', 7);
    T(p, 'h-y-tick-label', String(t), 188, yHigh(t) + 21, {fs:58, anchor:'end', len:71});
  });
  T(p, 'h-y-tick-label', '15', 188, 3878, {fs:58, anchor:'end', len:71});
  hLowerTicks.forEach(t => {
    L(p, 'h-y-tick', 200, yLow(t), 235, yLow(t), '#000', 7);
    T(p, 'h-y-tick-label', String(t), 188, yLow(t) + 21, {fs:58, anchor:'end'});
  });
  T(p, 'h-y-tick-label', '4', 188, yLow(4) + 21, {fs:58, anchor:'end'});
  T(p, 'h-y-title', '% Input', 69, 3732, {fs:66, anchor:'middle', rot:-90, len:255});
  R(p, 'legend-swatch-anti-igg', 280, 3325, 85, 26, '#808080');
  R(p, 'legend-swatch-anti-hnrnpc', 280, 3413, 85, 25, '#936320');
  T(p, 'legend-label-anti-igg', 'anti-IgG', 424, 3359, {fs:54, len:226});
  const lg = T(p, 'legend-label-anti-hnrnpc', null, 424, 3452, {fs:54, len:353});
  Span(lg, 'legend-label-anti-prefix', 'anti-');
  Span(lg, 'legend-label-hnrnpc-suffix', 'HNRNPC', {'font-size':44});
  T(p, 'rip-pcr-title', 'RIP-PCR', 938, 3365, {fs:54, len:250});
})();

/* ---------- Panel I (lines) ---------- */
(function () {
  const p = $('pI');
  const xI = h => 1693 + h * 76.9;
  const yI = v => 4156 - v * 7.59;
  const marker = (name, kind, c, cx, cy) => {
    if (kind === 'square') R(p, name, cx - 9, cy - 9, 18, 18, c);
    if (kind === 'dot') mk('circle', {cx:cx, cy:cy, r:8.5, fill:c}, p, name);
    if (kind === 'tri') Poly(p, name, [[cx, cy - 15], [cx + 14, cy + 10], [cx - 14, cy + 10]], c);
    if (kind === 'ring') mk('circle', {cx:cx, cy:cy, r:12, fill:'none', stroke:c, 'stroke-width':3}, p, name);
  };
  const seriesList = [
    {n:'ctrl', m:iCtrl, e:iCtrlErr, c:'#333333', k:'square'},
    {n:'sh-hnr-cm', m:iCM, e:iCMErr, c:'#00b400', k:'ring'},
    {n:'sh-hnr-lac', m:iLac, e:iLacErr, c:'#ff0000', k:'tri'},
    {n:'sh-hnrnpc', m:iHNRNPC, e:iHNRNPCErr, c:'#0000b8', k:'dot'}
  ];
  seriesList.forEach(s => {
    iHours.forEach((h, i) => {
      const x = xI(h);
      L(p, s.n + '-error-stem', x, yI(s.m[i] + s.e[i]), x, yI(s.m[i] - s.e[i]), s.c, 3);
      L(p, s.n + '-error-cap-top', x - 14, yI(s.m[i] + s.e[i]), x + 14, yI(s.m[i] + s.e[i]), s.c, 3);
      L(p, s.n + '-error-cap-bottom', x - 14, yI(s.m[i] - s.e[i]), x + 14, yI(s.m[i] - s.e[i]), s.c, 3);
    });
    mk('polyline', {points:iHours.map((h, i) => xI(h).toFixed(1) + ',' + yI(s.m[i]).toFixed(1)).join(' '), fill:'none', stroke:s.c, 'stroke-width':3.5}, p, s.n + '-line');
    iHours.forEach((h, i) => marker(s.n + '-point', s.k, s.c, xI(h), yI(s.m[i])));
  });
  L(p, 'i-y-axis', 1617, 3319, 1617, 4158, '#000', 3.5);
  L(p, 'i-x-axis', 1594, 4156, 2426, 4156, '#000', 3.5);
  for (let h = -1.0; h <= 9.4; h += 1 / 3) {
    L(p, 'i-x-minor-tick', xI(h), 4156, xI(h), 4162, '#000', 3);
  }
  iYTicks.forEach(t => {
    L(p, 'i-y-tick', 1594, yI(t), 1617, yI(t), '#000', 3.5);
    T(p, 'i-y-tick-label', String(t), 1583, yI(t) + 20, {fs:57, anchor:'end'});
  });
  iHours.forEach(h => {
    L(p, 'i-x-tick', xI(h), 4156, xI(h), 4178, '#000', 3.5);
    T(p, 'i-x-tick-label', String(h), xI(h) + 3, 4242, {fs:h === 9 ? 44 : 56, anchor:'middle'});
  });
  T(p, 'i-x-title', 'Act D (h)', 2053, 4322, {fs:56, anchor:'middle', len:233});
  T(p, 'i-y-title', 'MCT1 mRNA\u00a0\u00a0(%)', 1420, 3738, {fs:64, anchor:'middle', rot:-90, len:550});
  const legendNames = ['Ctrl', 'sh-HNRNPC', 'sh-HNR+Lac', 'sh-HNR+CM'];
  const legendOrder = [0, 3, 2, 1];
  const legendLineY = [3837, 3918, 3997, 4077];
  const legendTextY = [3853, 3934, 4012, 4094];
  legendNames.forEach((nm, i) => {
    const s = seriesList[legendOrder[i]];
    L(p, 'legend-line', 1646, legendLineY[i], 1733, legendLineY[i], s.c, 3.5);
    marker('legend-marker', s.k, s.c, 1690, legendLineY[i]);
    T(p, 'legend-label', nm, 1783, legendTextY[i], {fs:51});
  });
  mk('polyline', {points:'2417,3749 2434,3749 2434,3887 2417,3887', fill:'none', stroke:'#000', 'stroke-width':3.5}, p, 'significance-bracket-inner');
  Star(p, 'significance-star-inner', '*', 2476, 3827, 62);
  mk('polyline', {points:'2515,3815 2540,3815 2540,3887 2503,3887', fill:'none', stroke:'#000', 'stroke-width':3.5}, p, 'significance-bracket-outer');
  Star(p, 'significance-star-outer', '*', 2578, 3862, 62);
})();

/* ---------- Panel I (half-life bars) ---------- */
(function () {
  const p = $('pJ');
  const yJ = v => 4061 - v * 62.9;
  const xJ = i => 2898 + i * 105.4;
  const fills = ['#000000', '#0000bf', '#990000', '#007a00'];
  const ends = [[2909, 4135], [3012, 4137], [3120, 4132], [3229, 4128]];
  jCategories.forEach((c, i) => {
    ErrUp(p, 'half-life-error', xJ(i), yJ(jValues[i]), yJ(jTops[i]), 45, '#111', 4);
    R(p, 'half-life-bar', xJ(i) - 43, yJ(jValues[i]), 86, 4061 - yJ(jValues[i]), fills[i], '#222', 3);
    L(p, 'half-life-x-tick', xJ(i), 4061, xJ(i), 4081, '#000', 6);
    T(p, 'half-life-category-label', c, ends[i][0], ends[i][1], {fs:49, anchor:'end', rot:-30});
  });
  L(p, 'half-life-y-axis', 2803, 3304, 2803, 4064, '#000', 7);
  L(p, 'half-life-x-axis', 2782, 4061, 3298, 4061, '#000', 6);
  jTicks.forEach(t => {
    L(p, 'half-life-y-tick', 2782, yJ(t), 2803, yJ(t), '#000', 6);
    T(p, 'half-life-y-tick-label', String(t), 2774, yJ(t) + 19, {fs:52, anchor:'end'});
  });
  T(p, 'half-life-hash', '#', 3008, 3660, {fs:46, anchor:'middle'});
  Star(p, 'half-life-star-lac', '*', 3108, 3558, 62);
  Star(p, 'half-life-star-cm', '*', 3219, 3579, 62);
  const yt = T(p, 'half-life-y-title', null, 2684, 3687, {fs:54, anchor:'middle', rot:-90, len:178});
  Span(yt, 'half-life-y-title-t', 't');
  Span(yt, 'half-life-y-title-sub', '1/2', {'font-size':36, dy:8});
  Span(yt, 'half-life-y-title-unit', '\u00a0(h)', {dy:-8});
})();
</script>
</body>
</html>
